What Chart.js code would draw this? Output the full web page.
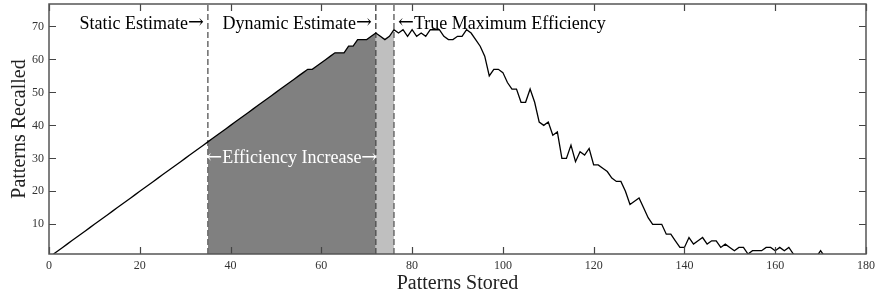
<!DOCTYPE html>
<html><head><meta charset="utf-8">
<script src="https://cdn.jsdelivr.net/npm/chart.js@4"></script>
<style>html,body{margin:0;padding:0;background:#fff}#c{display:block}</style>
</head><body>
<canvas id="c" width="875" height="296"></canvas>
<script>
const patternsStored = [1,2,3,4,5,6,7,8,9,10,11,12,13,14,15,16,17,18,19,20,21,22,23,24,25,26,27,28,29,30,31,32,33,34,35,36,37,38,39,40,41,42,43,44,45,46,47,48,49,50,51,52,53,54,55,56,57,58,59,60,61,62,63,64,65,66,67,68,69,70,71,72,73,74,75,76,77,78,79,80,81,82,83,84,85,86,87,88,89,90,91,92,93,94,95,96,97,98,99,100,101,102,103,104,105,106,107,108,109,110,111,112,113,114,115,116,117,118,119,120,121,122,123,124,125,126,127,128,129,130,131,132,133,134,135,136,137,138,139,140,141,142,143,144,145,146,147,148,149,150,151,152,153,154,155,156,157,158,159,160,161,162,163,164,165,166,167,168,169,170,171,172,173,174,175,176,177,178,179,180];
const patternsRecalled = [1,2,3,4,5,6,7,8,9,10,11,12,13,14,15,16,17,18,19,20,21,22,23,24,25,26,27,28,29,30,31,32,33,34,35,36,37,38,39,40,41,42,43,44,45,46,47,48,49,50,51,52,53,54,55,56,57,57,58,59,60,61,62,62,62,64,64,66,66,66,67,68,67,66,67,69,68,69,67,69,67,68,67,69,69,69,67,66,66,67,67,69,68,66,64,61,55,57,57,56,53,51,51,47,47,51,47,41,40,41,37,38,30,30,34,29,32,31,33,28,28,27,26,24,23,23,20,16,17,18,15,12,10,10,10,7,7,5,3,3,6,4,5,6,4,5,5,3,4,3,2,3,3,1,2,2,2,3,3,2,3,2,3,1,0,0,0,0,0,2,0,0,0,0,0,0,0,0,0,0];
const xTickValues = [0,20,40,60,80,100,120,140,160,180];
const yTickValues = [10,20,30,40,50,60,70];
const staticEstimate = 35;
const dynamicEstimate = 72;
const trueMaximum = 76;
const labelStatic = "Static Estimate\u2192";
const labelDynamic = "Dynamic Estimate\u2192";
const labelTrue = "\u2190True Maximum Efficiency";
const labelIncrease = "\u2190Efficiency Increase\u2192";
const xTitle = "Patterns Stored";
const yTitle = "Patterns Recalled";
const Y_MIN = 1, Y_MAX = 76.8, X_MIN = 0, X_MAX = 180;

const points = patternsStored.map((x, i) => ({x, y: patternsRecalled[i]}));
const between = (a, b) => points.filter(p => p.x >= a && p.x <= b);
const vline = (x) => [{x, y: Y_MIN}, {x, y: Y_MAX}];

const SERIF = "'Liberation Serif', 'Times New Roman', serif";
const TEXT_FONT = "18px " + SERIF;
const ARROW_FONT = "19px 'DejaVu Serif', serif";

function runs(str) {
  const out = [];
  for (const ch of str) {
    const isArrow = ch === '\u2192' || ch === '\u2190';
    const last = out[out.length - 1];
    if (last && last.arrow === isArrow) last.t += ch; else out.push({t: ch, arrow: isArrow});
  }
  return out;
}
function drawMixed(ctx, str, x, y, align) {
  const rs = runs(str);
  let total = 0;
  rs.forEach(r => { ctx.font = r.arrow ? ARROW_FONT : TEXT_FONT; r.w = ctx.measureText(r.t).width; total += r.w; });
  let cx = align === 'right' ? x - total : (align === 'center' ? x - total / 2 : x);
  ctx.textAlign = 'left';
  rs.forEach(r => {
    ctx.font = r.arrow ? ARROW_FONT : TEXT_FONT;
    ctx.fillText(r.t, cx, r.arrow ? y - 0.5 : y);
    cx += r.w;
  });
}

const framePlugin = {
  id: 'frame',
  afterDatasetsDraw(chart) {
    const {ctx, chartArea: a, scales: {x, y}} = chart;
    ctx.save();
    ctx.fillStyle = '#000';
    ctx.textBaseline = 'alphabetic';
    const ty = y.getPixelForValue(69.3);
    drawMixed(ctx, labelStatic, x.getPixelForValue(staticEstimate) - 4, ty, 'right');
    drawMixed(ctx, labelDynamic, x.getPixelForValue(dynamicEstimate) - 4, ty, 'right');
    drawMixed(ctx, labelTrue, x.getPixelForValue(trueMaximum) + 4, ty, 'left');
    ctx.fillStyle = '#fff';
    drawMixed(ctx, labelIncrease, (x.getPixelForValue(staticEstimate) + x.getPixelForValue(dynamicEstimate)) / 2, y.getPixelForValue(28.5), 'center');
    // ticks inward
    ctx.strokeStyle = '#444';
    ctx.lineWidth = 1.2;
    const L = 7;
    ctx.beginPath();
    xTickValues.forEach(v => {
      const px = Math.round(x.getPixelForValue(v)) + 0.5;
      ctx.moveTo(px, a.bottom); ctx.lineTo(px, a.bottom - L);
      ctx.moveTo(px, a.top); ctx.lineTo(px, a.top + L);
    });
    yTickValues.forEach(v => {
      const py = Math.round(y.getPixelForValue(v)) + 0.5;
      ctx.moveTo(a.left, py); ctx.lineTo(a.left + L, py);
      ctx.moveTo(a.right, py); ctx.lineTo(a.right - L, py);
    });
    ctx.stroke();
    // frame
    ctx.strokeStyle = '#555';
    ctx.lineWidth = 1.5;
    ctx.strokeRect(a.left, a.top, a.right - a.left, a.bottom - a.top);
    ctx.restore();
  }
};

new Chart(document.getElementById('c'), {
  type: 'line',
  data: {
    datasets: [
      {data: points, borderColor: '#000', borderWidth: 1.3, pointRadius: 0, fill: false, tension: 0, order: 0},
      {data: vline(staticEstimate), borderColor: '#6b6b6b', borderWidth: 1.5, borderDash: [6, 3], pointRadius: 0, fill: false, order: 1},
      {data: vline(dynamicEstimate), borderColor: '#555', borderWidth: 1.5, borderDash: [6, 3], pointRadius: 0, fill: false, order: 1},
      {data: vline(trueMaximum), borderColor: '#6b6b6b', borderWidth: 1.5, borderDash: [6, 3], pointRadius: 0, fill: false, order: 1},
      {data: between(staticEstimate, dynamicEstimate), borderWidth: 0, borderColor: 'rgba(0,0,0,0)', backgroundColor: '#808080', pointRadius: 0, fill: 'start', order: 2},
      {data: between(dynamicEstimate, trueMaximum), borderWidth: 0, borderColor: 'rgba(0,0,0,0)', backgroundColor: '#bfbfbf', pointRadius: 0, fill: 'start', order: 2}
    ]
  },
  options: {
    responsive: false,
    animation: false,
    devicePixelRatio: 1,
    layout: {padding: {top: 4, right: 9, left: 0, bottom: 0}},
    plugins: {legend: {display: false}, tooltip: {enabled: false}},
    scales: {
      x: {
        type: 'linear', min: X_MIN, max: X_MAX,
        grid: {display: false, drawTicks: false},
        border: {display: false},
        afterBuildTicks: s => { s.ticks = xTickValues.map(v => ({value: v})); },
        afterFit: s => { s.height = 42; s.paddingLeft = 0; s.paddingRight = 0; },
        ticks: {font: {family: SERIF, size: 12}, color: '#333', padding: 5, maxRotation: 0},
        title: {display: true, text: xTitle, font: {family: SERIF, size: 20}, color: '#222', padding: {top: 0, bottom: 0}}
      },
      y: {
        type: 'linear', min: Y_MIN, max: Y_MAX,
        grid: {display: false, drawTicks: false},
        border: {display: false},
        afterBuildTicks: s => { s.ticks = yTickValues.map(v => ({value: v})); },
        afterFit: s => { s.width = 49; s.paddingTop = 0; s.paddingBottom = 0; },
        ticks: {font: {family: SERIF, size: 12}, color: '#333', padding: 5},
        title: {display: true, text: yTitle, font: {family: SERIF, size: 20}, color: '#222', padding: {top: 8, bottom: 0}}
      }
    }
  },
  plugins: [framePlugin]
});
</script>
</body></html>
